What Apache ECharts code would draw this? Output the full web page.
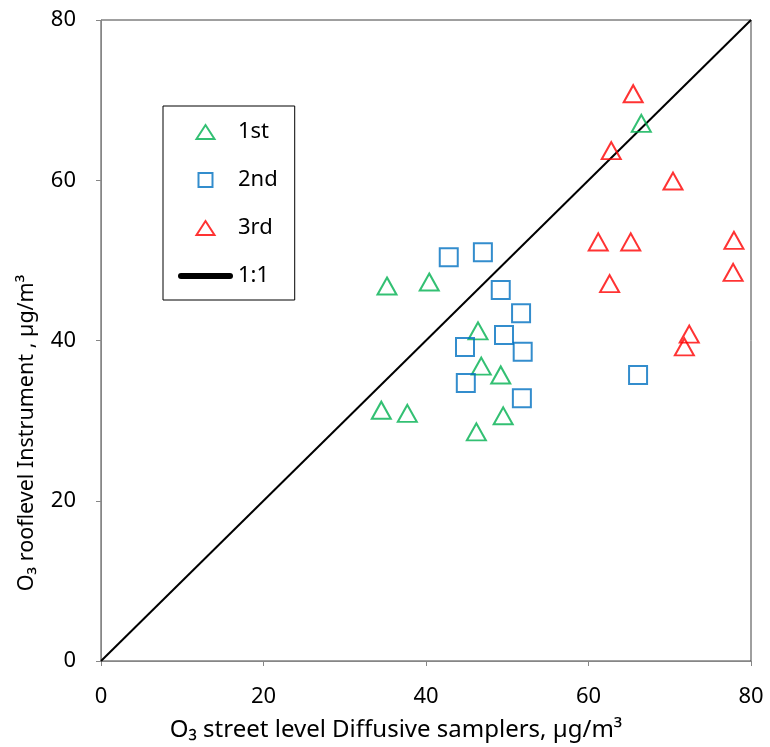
<!DOCTYPE html>
<html>
<head>
<meta charset="utf-8">
<script src="https://cdn.jsdelivr.net/npm/echarts@6/dist/echarts.min.js"></script>
<style>
  html, body { margin: 0; padding: 0; background: #fff; }
  #chart { width: 770px; height: 747px; }
</style>
</head>
<body>
<div id="chart"></div>
<script>
// axis ticks
var axisMin = 0;
var axisMax = 80;
var tickStep = 20;

// 1st campaign (x = street level diffusive, y = rooflevel instrument)
var first = [
    [35.2, 46.8], [40.4, 47.3], [46.4, 41.2], [46.8, 36.8], [49.2, 35.7],
    [34.5, 31.3], [37.7, 30.9], [46.2, 28.6], [49.5, 30.6], [66.5, 67.1]
];
// 2nd campaign
var second = [
    [42.8, 50.4], [47.0, 51.0], [49.2, 46.3], [51.7, 43.4], [49.6, 40.7],
    [44.8, 39.2], [51.9, 38.6], [44.9, 34.7], [51.8, 32.8], [66.1, 35.7]
];
// 3rd campaign
var third = [
    [65.5, 70.8], [62.8, 63.7], [70.4, 59.9], [61.2, 52.3], [65.2, 52.3],
    [77.9, 52.5], [77.8, 48.5], [62.6, 47.1], [72.4, 40.8], [71.8, 39.2]
];
// 1:1 reference line
var oneToOne = [[0, 0], [80, 80]];

var fontName = 'Noto Sans';

// legend icons (paths keep their aspect inside the legend box)
var triIcon = 'path://M9,0L18,14L0,14Z';
var sqIcon = 'path://M0,0L14,0L14,14L0,14Z';
var barIcon = 'path://M3,0L52,0A3,3,0,0,1,52,6L3,6A3,3,0,0,1,3,0Z';

function markerSeries(name, data, symbol, color) {
    return {
        name: name,
        type: 'scatter',
        data: data,
        symbol: symbol,
        symbolSize: symbol === 'rect' ? 18 : [19, 17],
        z: 3,
        itemStyle: {
            color: 'rgba(255,255,255,0)',
            borderColor: color,
            borderWidth: 2
        }
    };
}

var chart = echarts.init(document.getElementById('chart'));
chart.setOption({
    animation: false,
    textStyle: { fontFamily: fontName },
    grid: {
        left: 101, right: 19, top: 20, bottom: 86,
        show: true,
        borderColor: '#404040',
        borderWidth: 1
    },
    legend: {
        orient: 'vertical',
        left: 163,
        top: 106,
        padding: [15, 17, 13, 15],
        itemWidth: 55,
        itemHeight: 14,
        itemGap: 26,
        borderColor: '#000',
        borderWidth: 1,
        textStyle: { fontSize: 22, color: '#000', fontFamily: fontName },
        data: [
            { name: '1st', icon: triIcon },
            { name: '2nd', icon: sqIcon },
            { name: '3rd', icon: triIcon },
            { name: '1:1', icon: barIcon, itemStyle: { color: '#000', borderWidth: 0 } }
        ]
    },
    xAxis: {
        type: 'value',
        min: axisMin, max: axisMax, interval: tickStep,
        name: 'O\u2083 street level Diffusive samplers, \u00b5g/m\u00b3',
        nameLocation: 'middle',
        nameGap: 57,
        nameTextStyle: { fontSize: 24, color: '#000', padding: [0, 60, 0, 0] },
        axisLine: { lineStyle: { color: '#868686', width: 1 } },
        axisTick: { show: true, length: 5, lineStyle: { color: '#868686' } },
        axisLabel: { fontSize: 22, color: '#000', margin: 25 },
        splitLine: { show: false }
    },
    yAxis: {
        type: 'value',
        min: axisMin, max: axisMax, interval: tickStep,
        name: 'O\u2083 rooflevel Instrument , \u00b5g/m\u00b3',
        nameLocation: 'middle',
        nameGap: 63,
        nameTextStyle: { fontSize: 21.5, color: '#000', padding: [0, 185, 0, 0] },
        axisLine: { lineStyle: { color: '#868686', width: 1 } },
        axisTick: { show: true, length: 5, lineStyle: { color: '#868686' } },
        axisLabel: { fontSize: 22, color: '#000', margin: 25 },
        splitLine: { show: false }
    },
    series: [
        markerSeries('1st', first, 'triangle', '#00B050'),
        markerSeries('2nd', second, 'rect', '#0070C0'),
        markerSeries('3rd', third, 'triangle', '#FF0000'),
        {
            name: '1:1',
            type: 'line',
            data: oneToOne,
            symbol: 'none',
            z: 2,
            itemStyle: { color: '#000' },
            lineStyle: { color: '#000', width: 2 }
        }
    ]
});
</script>
</body>
</html>
